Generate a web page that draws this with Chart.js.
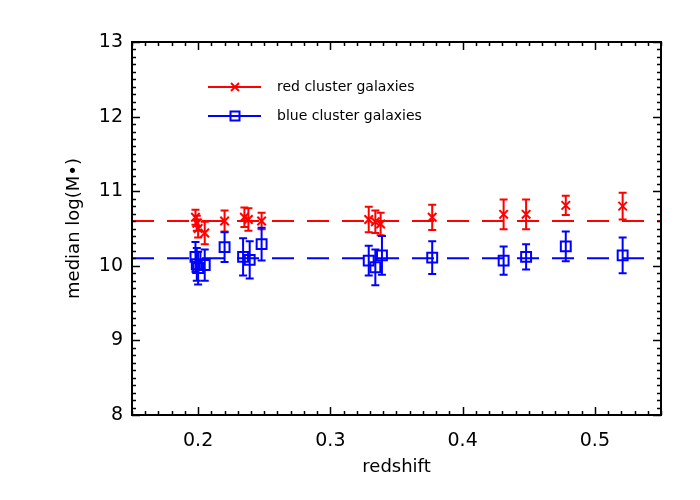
<!DOCTYPE html>
<html>
<head>
<meta charset="utf-8">
<script src="https://cdn.jsdelivr.net/npm/chart.js@4.4.0/dist/chart.umd.min.js"></script>
<style>
  html, body { margin: 0; padding: 0; background: #fff; }
  #wrap { width: 700px; height: 500px; }
</style>
</head>
<body>
<div id="wrap"><canvas id="chart"></canvas></div>
<script>
// redshift of each cluster
const redZ   = [0.198, 0.199, 0.200, 0.205, 0.220, 0.235, 0.238, 0.248, 0.329, 0.334, 0.338, 0.377, 0.431, 0.448, 0.478, 0.521];
const redVal = [10.65, 10.57, 10.50, 10.44, 10.60, 10.65, 10.62, 10.60, 10.62, 10.59, 10.56, 10.65, 10.69, 10.69, 10.81, 10.80];
const redErr = [0.10, 0.10, 0.12, 0.15, 0.14, 0.13, 0.15, 0.11, 0.17, 0.15, 0.15, 0.17, 0.20, 0.20, 0.13, 0.18];

const blueZ   = [0.198, 0.199, 0.200, 0.205, 0.220, 0.234, 0.239, 0.248, 0.329, 0.334, 0.339, 0.377, 0.431, 0.448, 0.478, 0.521];
const blueVal = [10.12, 10.02, 9.97, 10.01, 10.25, 10.12, 10.08, 10.29, 10.07, 9.98, 10.14, 10.11, 10.07, 10.12, 10.26, 10.14];
const blueErr = [0.20, 0.22, 0.22, 0.21, 0.20, 0.25, 0.25, 0.22, 0.20, 0.24, 0.26, 0.22, 0.19, 0.17, 0.20, 0.24];

const redMedian = 10.6;
const blueMedian = 10.1;

const xRange = [0.15, 0.55];
const yRange = [8, 13];
const xTicks = [0.2, 0.3, 0.4, 0.5];
const yTicks = [8, 9, 10, 11, 12, 13];

const RED = '#ff0000';
const BLUE = '#0000ff';
const FONT = '"DejaVu Sans", sans-serif';

function pts(xs, ys) {
    return xs.map((x, i) => ({ x: x, y: ys[i] }));
}

// error bars, drawn through the chart scales
const errorBars = {
    id: 'errorBars',
    afterDatasetsDraw(chart) {
        const ctx = chart.ctx;
        const xs = chart.scales.x, ys = chart.scales.y;
        const sets = [[redZ, redVal, redErr, RED], [blueZ, blueVal, blueErr, BLUE]];
        ctx.save();
        ctx.lineWidth = 2;
        sets.forEach(([zs, vals, errs, col]) => {
            ctx.strokeStyle = col;
            zs.forEach((z, i) => {
                const px = xs.getPixelForValue(z);
                const top = ys.getPixelForValue(vals[i] + errs[i]);
                const bot = ys.getPixelForValue(vals[i] - errs[i]);
                ctx.beginPath();
                ctx.moveTo(px, top); ctx.lineTo(px, bot);
                ctx.moveTo(px - 4, top); ctx.lineTo(px + 4, top);
                ctx.moveTo(px - 4, bot); ctx.lineTo(px + 4, bot);
                ctx.stroke();
            });
        });
        ctx.restore();
    }
};

// IDL-style box with inward ticks on all sides
const frame = {
    id: 'frame',
    afterDraw(chart) {
        const ctx = chart.ctx;
        const a = chart.chartArea;
        const xs = chart.scales.x, ys = chart.scales.y;
        ctx.save();
        ctx.strokeStyle = '#000';
        ctx.lineWidth = 2;
        ctx.strokeRect(a.left, a.top, a.right - a.left, a.bottom - a.top);
        ctx.lineWidth = 1.5;
        ctx.beginPath();
        for (let k = 0; k <= 40; k++) {
            const v = xRange[0] + k * 0.01;
            const px = Math.round(xs.getPixelForValue(v)) + 0.5;
            const len = (k % 10 === 5) ? 8 : 4;
            ctx.moveTo(px, a.bottom); ctx.lineTo(px, a.bottom - len);
            ctx.moveTo(px, a.top); ctx.lineTo(px, a.top + len);
        }
        for (let k = 0; k <= 50; k++) {
            const v = yRange[0] + k * 0.1;
            const py = Math.round(ys.getPixelForValue(v)) + 0.5;
            const len = (k % 10 === 0) ? 8 : 4;
            ctx.moveTo(a.left, py); ctx.lineTo(a.left + len, py);
            ctx.moveTo(a.right, py); ctx.lineTo(a.right - len, py);
        }
        ctx.stroke();

        // legend
        const rows = [
            { y: 87, col: RED, label: 'red cluster galaxies', style: 'x' },
            { y: 116, col: BLUE, label: 'blue cluster galaxies', style: 'sq' }
        ];
        ctx.font = '14px ' + FONT;
        ctx.textBaseline = 'middle';
        rows.forEach(r => {
            ctx.strokeStyle = r.col;
            ctx.lineWidth = 2;
            ctx.beginPath();
            ctx.moveTo(208, r.y); ctx.lineTo(261, r.y);
            ctx.stroke();
            ctx.beginPath();
            if (r.style === 'x') {
                ctx.moveTo(231, r.y - 4); ctx.lineTo(239, r.y + 4);
                ctx.moveTo(239, r.y - 4); ctx.lineTo(231, r.y + 4);
            } else {
                ctx.rect(230.5, r.y - 4.5, 9, 9);
            }
            ctx.stroke();
            ctx.fillStyle = '#000';
            ctx.fillText(r.label, 277, r.y);
        });
        ctx.restore();
    }
};

new Chart(document.getElementById('chart'), {
    type: 'scatter',
    data: {
        datasets: [
            {
                label: 'red median',
                type: 'line',
                data: pts(xRange, [redMedian, redMedian]),
                borderColor: RED,
                borderWidth: 2,
                borderDash: [22, 13],
                pointRadius: 0,
                fill: false
            },
            {
                label: 'blue median',
                type: 'line',
                data: pts(xRange, [blueMedian, blueMedian]),
                borderColor: BLUE,
                borderWidth: 2,
                borderDash: [22, 13],
                pointRadius: 0,
                fill: false
            },
            {
                label: 'red cluster galaxies',
                data: pts(redZ, redVal),
                pointStyle: 'crossRot',
                pointRadius: 6,
                borderColor: RED,
                backgroundColor: RED,
                pointBorderWidth: 2
            },
            {
                label: 'blue cluster galaxies',
                data: pts(blueZ, blueVal),
                pointStyle: 'rect',
                pointRadius: 7,
                borderColor: BLUE,
                backgroundColor: 'rgba(0,0,0,0)',
                pointBorderWidth: 2
            }
        ]
    },
    options: {
        responsive: true,
        maintainAspectRatio: false,
        animation: false,
        events: [],
        layout: {
            padding: { left: 64, right: 39, top: 42, bottom: 22 }
        },
        scales: {
            x: {
                type: 'linear',
                min: xRange[0],
                max: xRange[1],
                afterBuildTicks: s => { s.ticks = xTicks.map(v => ({ value: v })); },
                afterFit: s => { s.height = 500 - 415 - 22; },
                grid: { display: false, drawTicks: false },
                border: { display: false },
                ticks: {
                    color: '#000',
                    padding: 15,
                    font: { family: FONT, size: 19 },
                    callback: v => v.toFixed(1)
                },
                title: {
                    display: true,
                    text: 'redshift',
                    color: '#000',
                    padding: 0,
                    font: { family: FONT, size: 18 }
                }
            },
            y: {
                type: 'linear',
                min: yRange[0],
                max: yRange[1],
                afterBuildTicks: s => { s.ticks = yTicks.map(v => ({ value: v })); },
                afterFit: s => { s.width = 132 - 64; },
                grid: { display: false, drawTicks: false },
                border: { display: false },
                ticks: {
                    color: '#000',
                    padding: 9,
                    font: { family: FONT, size: 19 }
                },
                title: {
                    display: true,
                    text: 'median log(M\u2022)',
                    color: '#000',
                    padding: 0,
                    font: { family: FONT, size: 18 }
                }
            }
        },
        plugins: {
            legend: { display: false },
            tooltip: { enabled: false }
        }
    },
    plugins: [errorBars, frame]
});
</script>
</body>
</html>
